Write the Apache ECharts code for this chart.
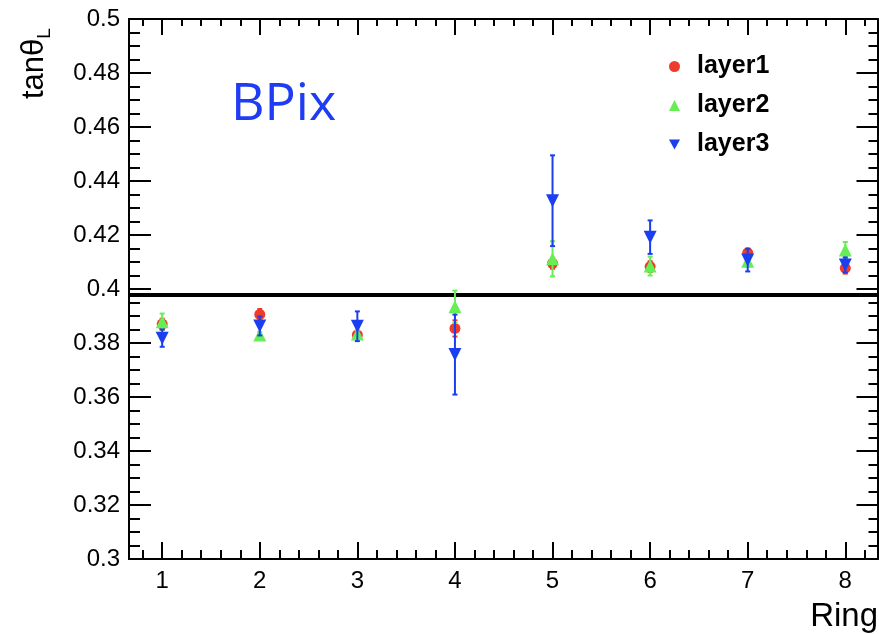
<!DOCTYPE html>
<html>
<head>
<meta charset="utf-8">
<script src="https://cdn.jsdelivr.net/npm/echarts@6/dist/echarts.min.js"></script>
<style>
html, body { margin: 0; padding: 0; background: #fff; }
#main { width: 879px; height: 634px; }
</style>
</head>
<body>
<div id="main"></div>
<script>
// rings on the x axis
var rings = [1, 2, 3, 4, 5, 6, 7, 8];
// tan(theta_L) per layer, with errors
var layer1 = [0.3870, 0.3906, 0.3830, 0.3854, 0.4095, 0.4083, 0.4134, 0.4077];
var err1   = [0.0020, 0.0020, 0.0015, 0.0030, 0.0020, 0.0020, 0.0015, 0.0020];
var layer2 = [0.3879, 0.3830, 0.3833, 0.3934, 0.4112, 0.4085, 0.4103, 0.4144];
var err2   = [0.0030, 0.0010, 0.0015, 0.0060, 0.0065, 0.0035, 0.0020, 0.0030];
var layer3 = [0.3818, 0.3863, 0.3862, 0.3757, 0.4327, 0.4192, 0.4107, 0.4089];
var err3   = [0.0032, 0.0035, 0.0055, 0.0148, 0.0168, 0.0062, 0.0042, 0.0028];
var refLine = 0.3977;

var xMin = 0.66, xMax = 8.33;
var font = 'Liberation Sans, Arial, Helvetica, sans-serif';

// minor tick positions every 0.2
var minorX = [];
for (var t = 8; t <= 83; t += 2) { minorX.push(t / 10); }

var myChart = echarts.init(document.getElementById('main'));

function pts(vals, errs) {
	var out = [];
	for (var i = 0; i < rings.length; i++) {
		out.push([rings[i], vals[i], errs[i]]);
	}
	return out;
}

function errBars(name, color, vals, errs, z) {
	return {
		name: name,
		type: 'custom',
		z: z,
		silent: true,
		itemStyle: { color: color },
		encode: { x: 0, y: 1 },
		data: pts(vals, errs),
		renderItem: function (params, api) {
			var x = api.value(0), y = api.value(1), e = api.value(2);
			var top = api.coord([x, y + e]);
			var bot = api.coord([x, y - e]);
			var st = { stroke: color, lineWidth: 2 };
			return {
				type: 'group',
				children: [
					{ type: 'line', shape: { x1: top[0], y1: top[1], x2: bot[0], y2: bot[1] }, style: st },
					{ type: 'line', shape: { x1: top[0] - 2.5, y1: top[1], x2: top[0] + 2.5, y2: top[1] }, style: st },
					{ type: 'line', shape: { x1: bot[0] - 2.5, y1: bot[1], x2: bot[0] + 2.5, y2: bot[1] }, style: st }
				]
			};
		}
	};
}

function markers(name, color, vals, errs, symbol, size, rot, z) {
	return {
		name: name,
		type: 'scatter',
		z: z,
		symbol: symbol,
		symbolSize: size,
		symbolRotate: rot,
		itemStyle: { color: color, opacity: 1 },
		data: pts(vals, errs)
	};
}

var red = '#ee3b2b', green = '#66ee55', blue = '#1a3ef0';
var downTri = 'path://M0,0L10,0L5,9Z';

var l1 = markers('layer1', red, layer1, err1, 'circle', 11, 0, 3);
l1.markLine = {
	silent: true, symbol: 'none', label: { show: false }, z: 1,
	precision: 4,
	lineStyle: { color: '#000', width: 4, type: 'solid' },
	data: [{ yAxis: refLine }]
};

var option = {
	animation: false,
	grid: { left: 129, right: 1.5, top: 19, bottom: 75 },
	legend: {
		orient: 'vertical',
		left: 664,
		top: 49,
		itemWidth: 11,
		itemHeight: 11,
		itemGap: 14,
		selectedMode: false,
		textStyle: { fontFamily: font, fontWeight: 'bold', fontSize: 25, color: '#000', padding: [0, 0, 0, 12], lineHeight: 25 },
		data: [
			{ name: 'layer1', icon: 'circle', itemStyle: { color: red } },
			{ name: 'layer2', icon: 'triangle', itemStyle: { color: green } },
			{ name: 'layer3', icon: downTri, itemStyle: { color: blue } }
		]
	},
	xAxis: [
		{
			type: 'value', position: 'bottom', min: xMin, max: xMax,
			axisLine: { lineStyle: { color: '#000', width: 2 } },
			axisTick: { inside: true, length: 17, customValues: rings, lineStyle: { color: '#000', width: 2 } },
			axisLabel: { customValues: rings, margin: 10, fontFamily: font, fontSize: 24, color: '#000' },
			splitLine: { show: false }
		},
		{
			type: 'value', position: 'bottom', min: xMin, max: xMax,
			axisLine: { lineStyle: { color: '#000', width: 2 } },
			axisTick: { inside: true, length: 9, customValues: minorX, lineStyle: { color: '#000', width: 2 } },
			axisLabel: { show: false },
			splitLine: { show: false }
		},
		{
			type: 'value', position: 'top', min: xMin, max: xMax,
			axisLine: { lineStyle: { color: '#000', width: 2 } },
			axisTick: { inside: true, length: 16, customValues: rings, lineStyle: { color: '#000', width: 2 } },
			axisLabel: { show: false },
			splitLine: { show: false }
		},
		{
			type: 'value', position: 'top', min: xMin, max: xMax,
			axisLine: { lineStyle: { color: '#000', width: 2 } },
			axisTick: { inside: true, length: 7, customValues: minorX, lineStyle: { color: '#000', width: 2 } },
			axisLabel: { show: false },
			splitLine: { show: false }
		}
	],
	yAxis: [
		{
			type: 'value', position: 'left', min: 0.3, max: 0.5, interval: 0.02,
			axisLine: { show: true, lineStyle: { color: '#000', width: 2 } },
			axisTick: { show: true, inside: true, length: 22, lineStyle: { color: '#000', width: 2 } },
			minorTick: { show: true, splitNumber: 4, length: 11, lineStyle: { color: '#000', width: 2 } },
			axisLabel: { margin: 9, fontFamily: font, fontSize: 24, color: '#000' },
			splitLine: { show: false }
		},
		{
			type: 'value', position: 'right', min: 0.3, max: 0.5, interval: 0.02,
			axisLine: { show: true, lineStyle: { color: '#000', width: 2 } },
			axisTick: { show: true, inside: true, length: 21, lineStyle: { color: '#000', width: 2 } },
			minorTick: { show: true, splitNumber: 4, length: 9, lineStyle: { color: '#000', width: 2 } },
			axisLabel: { show: false },
			splitLine: { show: false }
		}
	],
	graphic: [
		{
			type: 'text', x: 231, y: 105,
			style: { text: 'BPix', fontFamily: 'Open Sans, Noto Sans, sans-serif', fontSize: 52, fill: '#1f3cf5', verticalAlign: 'middle' }
		},
		{
			type: 'text', x: 878, y: 617,
			style: { text: 'Ring', fontFamily: font, fontSize: 33, fill: '#000', align: 'right', verticalAlign: 'middle' }
		},
		{
			type: 'text', x: 34, y: 99, rotation: Math.PI / 2,
			style: {
				text: '{a|tanθ}{b|L}',
				align: 'left', verticalAlign: 'middle',
				rich: {
					a: { fontFamily: font, fontSize: 31, fill: '#000', lineHeight: 40 },
					b: { fontFamily: font, fontSize: 19, fill: '#000', verticalAlign: 'bottom', lineHeight: 30 }
				}
			}
		}
	],
	series: [
		errBars('layer1', red, layer1, err1, 2),
		l1,
		errBars('layer2', green, layer2, err2, 4),
		markers('layer2', green, layer2, err2, 'triangle', 13, 0, 5),
		errBars('layer3', blue, layer3, err3, 6),
		markers('layer3', blue, layer3, err3, 'triangle', 13, 180, 7)
	]
};

myChart.setOption(option);
</script>
</body>
</html>
